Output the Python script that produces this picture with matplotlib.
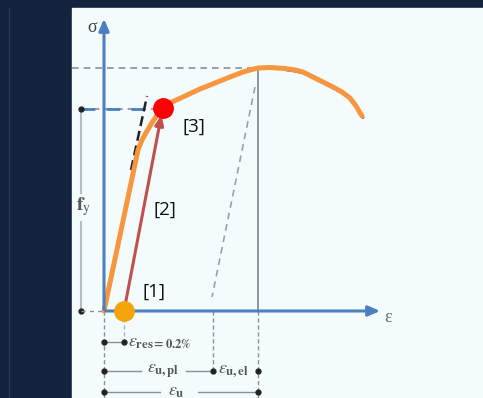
import numpy as np
from matplotlib import pyplot as plt
from matplotlib.patches import Rectangle

plt.rcParams['mathtext.fontset'] = 'stix'

# Curva sforzo-deformazione (coordinate del disegno, y verso il basso)
curve_x = [104, 138, 142, 147, 153, 158, 163, 172, 185, 200, 215, 230, 243, 250, 258,
           270, 285, 295, 303, 313, 323, 333, 342, 350, 356, 362]
curve_y = [311, 150, 140, 131, 121, 114, 108, 102, 96, 89, 83, 77, 72, 70, 68,
           67.5, 68.5, 70, 72, 77, 82, 87, 92, 98, 106, 116]

origin = (104, 311)
x_end, y_top = 383, 16
fy_level = 109
fu_level = 68
eps_u = 258
eps_upl = 213
eps_res = 124
yield_pt = (163, 108)

labels = ['[1]', '[2]', '[3]']
label_x = [154, 165, 194]
label_y = [292, 210, 127]

panel = '#f4fbfd'
navy = '#13233d'
blue = '#4a7fc0'
gray = '#8a8f98'
orange = '#f7963e'

fig = plt.figure(figsize=(4.83, 3.98), dpi=100, facecolor=navy)
ax = fig.add_axes([0, 0, 1, 1])
ax.set_xlim(0, 483)
ax.set_ylim(398, 0)
ax.axis('off')

ax.add_patch(Rectangle((72, 8), 411, 390, color=panel, zorder=0))
ax.plot([9, 9], [8, 398], color='#2a3a52', lw=1)

# linee di riferimento
ax.plot([72, eps_u], [fu_level, fu_level], ls=(0, (4, 3)), color=gray, lw=1.2)
ax.plot([81, yield_pt[0]], [fy_level, fy_level], ls=(0, (4, 3)), color=gray, lw=1.2)
ax.plot([81, 150], [fy_level, fy_level], ls=(0, (5, 4)), color=blue, lw=2)
ax.plot([eps_u, eps_u], [fu_level, origin[1]], color='#7d828a', lw=1.2)
ax.plot([255, 212], [87, 297], ls=(0, (4, 3)), color='#9a9fb0', lw=1.2)
ax.plot([131, 147], [170, 96], ls=(0, (4, 2)), color='#222222', lw=1.8)

# f_y
ax.plot([81, 81], [fy_level, 193], color='#b8bcc2', lw=1.5)
ax.plot([81, 81], [222, origin[1]], color='#b8bcc2', lw=1.5)
ax.plot([81, 81], [fy_level, origin[1]], 'o', color='#222222', ms=3.5)
ax.plot([81, origin[0]], [origin[1], origin[1]], ls=(0, (3, 3)), color=gray, lw=1)
ax.text(84, 207, r'$\mathbf{f}_\mathrm{y}$', fontsize=14, color='#555555', ha='center', va='center')

# quote sotto l'asse
ax.plot([origin[0]] * 2, [origin[1], 398], ls=(0, (3, 2)), color=gray, lw=1)
ax.plot([eps_res] * 2, [origin[1], 342], ls=(0, (3, 2)), color='#b0b4ba', lw=1)
ax.plot([eps_upl] * 2, [origin[1], 371], ls=(0, (3, 2)), color=gray, lw=1)
ax.plot([eps_u] * 2, [origin[1], 398], ls=(0, (3, 2)), color=gray, lw=1)

ax.plot([origin[0], eps_res], [342, 342], color=gray, lw=1)
ax.plot([origin[0], eps_res], [342, 342], 'o', color='#222222', ms=3.5)
ax.text(128, 342, r'$\varepsilon_{\mathbf{res=0.2\%}}$', fontsize=13, color='#555555', va='center')

ax.plot([origin[0], 141], [371, 371], color=gray, lw=1)
ax.plot([186, eps_upl], [371, 371], color=gray, lw=1)
ax.plot([origin[0], eps_upl, eps_u], [371, 371, 371], 'o', color='#222222', ms=3.5)
ax.text(163, 371, r'$\varepsilon_{\mathbf{u,pl}}$', fontsize=13, color='#555555', ha='center', va='center')
ax.text(218, 371, r'$\varepsilon_{\mathbf{u,el}}$', fontsize=13, color='#555555', va='center')

ax.plot([origin[0], 160], [392, 392], color=gray, lw=1)
ax.plot([198, eps_u], [392, 392], color=gray, lw=1)
ax.plot([origin[0], eps_u], [392, 392], 'o', color='#222222', ms=3.5)
ax.text(176, 391, r'$\varepsilon_{\mathbf{u}}$', fontsize=13, color='#555555', ha='center', va='center')

# assi
ax.annotate('', xy=(x_end, origin[1]), xytext=(origin[0] - 1, origin[1]),
            arrowprops=dict(arrowstyle='-|>,head_length=0.7,head_width=0.3', color=blue, lw=2.2))
ax.annotate('', xy=(origin[0], y_top), xytext=(origin[0], origin[1] + 1),
            arrowprops=dict(arrowstyle='-|>,head_length=0.7,head_width=0.3', color=blue, lw=2.2))
ax.text(92, 27, 'σ', fontsize=13, color='#444444', family='Liberation Serif', ha='center', va='center')
ax.text(388, 317, 'ε', fontsize=13, color='#666666', family='Liberation Serif', ha='center', va='center')

# curva
ax.plot(np.array(curve_x[16:]) + 1, np.array(curve_y[16:]) + 1.5, color='#222222', lw=1.6)
ax.plot(curve_x, curve_y, color=orange, lw=3.6, solid_capstyle='round', solid_joinstyle='round')

# scarico/ricarico
ax.annotate('', xy=(yield_pt[0] - 1, yield_pt[1] + 4), xytext=(eps_res, origin[1]),
            arrowprops=dict(arrowstyle='-|>,head_length=0.6,head_width=0.25', color='#c0504d', lw=2.2))
ax.plot(eps_res, origin[1], 'o', color='#f5a30a', ms=14, zorder=5)
ax.plot(*yield_pt, 'o', color='#ff0000', ms=14, zorder=5)

for lab, lx, ly in zip(labels, label_x, label_y):
    ax.text(lx, ly, lab, fontsize=13.5, color='#111111', family='Open Sans', ha='center', va='center')

plt.savefig('out.png', dpi=100, facecolor=navy)
